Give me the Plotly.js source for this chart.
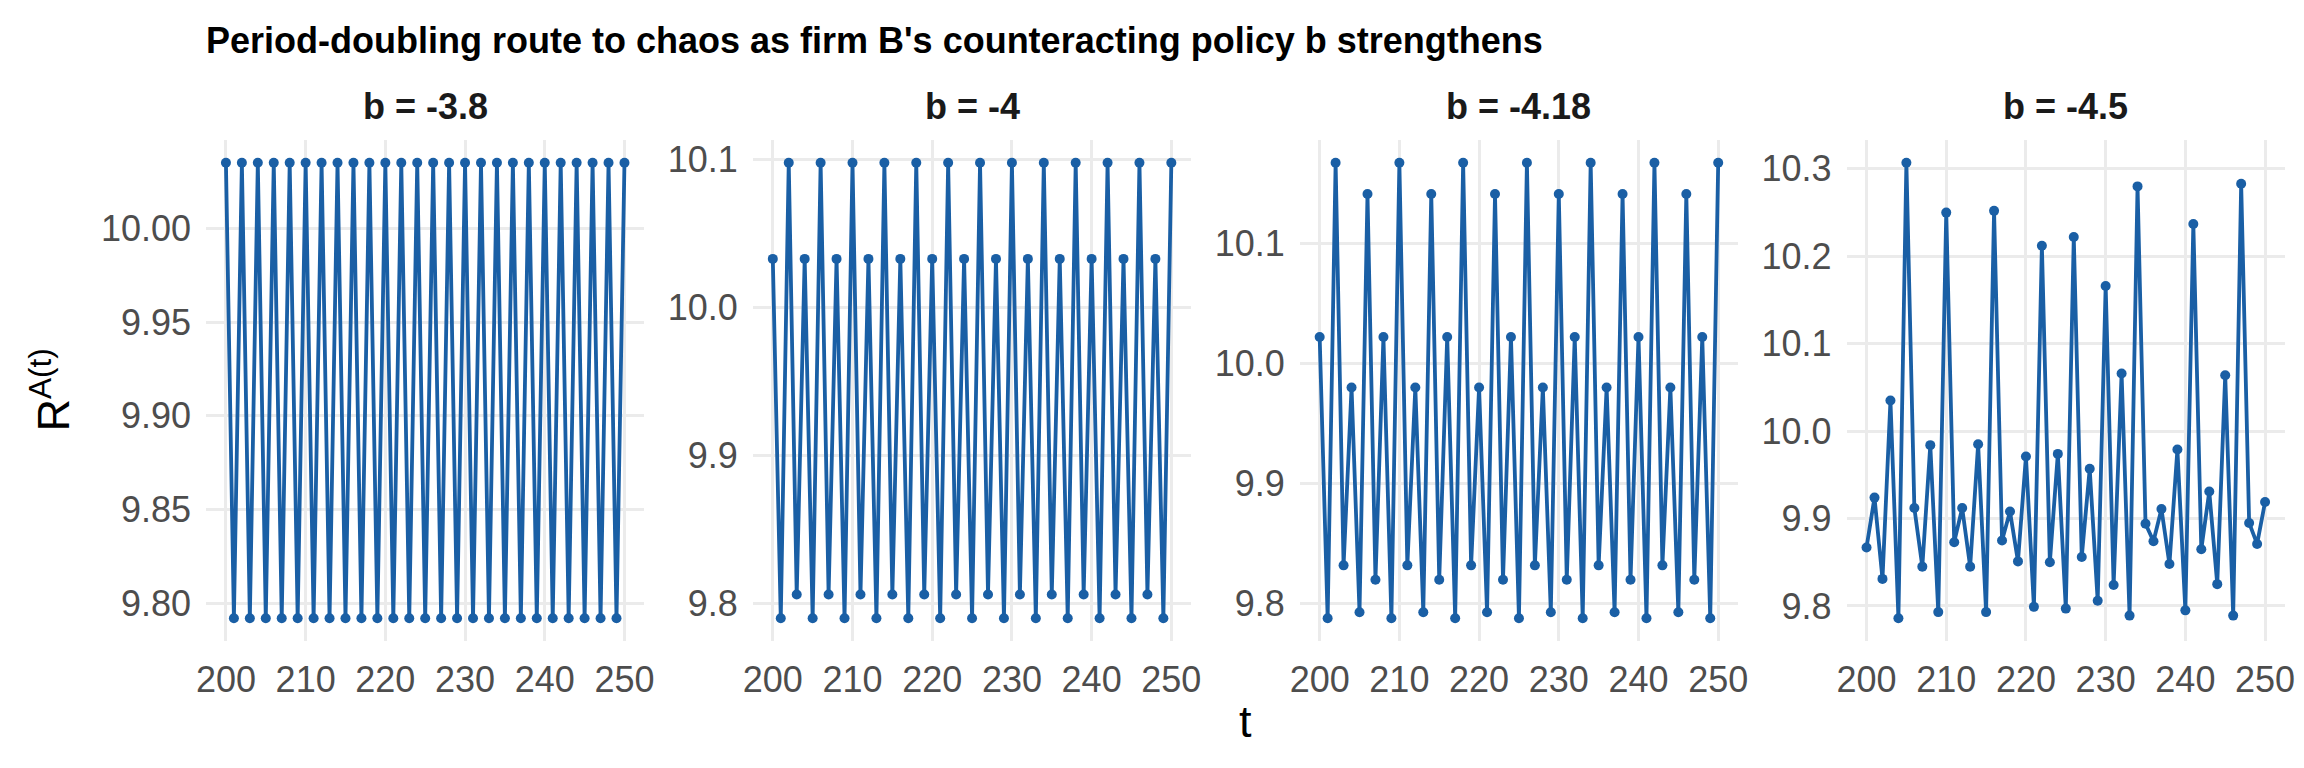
<!DOCTYPE html>
<html>
<head>
<meta charset="utf-8">
<script src="https://cdn.plot.ly/plotly-3.0.1.min.js"></script>
<style>
  html, body { margin: 0; padding: 0; background: #fff; }
  #chart { width: 2304px; height: 768px; }
</style>
</head>
<body>
<div id="chart"></div>
<script>
// time steps shown in every panel
var t_points = [200, 201, 202, 203, 204, 205, 206, 207, 208, 209,
                210, 211, 212, 213, 214, 215, 216, 217, 218, 219,
                220, 221, 222, 223, 224, 225, 226, 227, 228, 229,
                230, 231, 232, 233, 234, 235, 236, 237, 238, 239,
                240, 241, 242, 243, 244, 245, 246, 247, 248, 249, 250];

var panel_names = ["b = -3.8", "b = -4", "b = -4.18", "b = -4.5"];

// R^A(t)
var r_b38 = [10.035, 9.792, 10.035, 9.792, 10.035, 9.792, 10.035, 9.792, 10.035, 9.792,
             10.035, 9.792, 10.035, 9.792, 10.035, 9.792, 10.035, 9.792, 10.035, 9.792,
             10.035, 9.792, 10.035, 9.792, 10.035, 9.792, 10.035, 9.792, 10.035, 9.792,
             10.035, 9.792, 10.035, 9.792, 10.035, 9.792, 10.035, 9.792, 10.035, 9.792,
             10.035, 9.792, 10.035, 9.792, 10.035, 9.792, 10.035, 9.792, 10.035, 9.792, 10.035];

var r_b40 = [10.033, 9.790, 10.098, 9.806, 10.033, 9.790, 10.098, 9.806, 10.033, 9.790,
             10.098, 9.806, 10.033, 9.790, 10.098, 9.806, 10.033, 9.790, 10.098, 9.806,
             10.033, 9.790, 10.098, 9.806, 10.033, 9.790, 10.098, 9.806, 10.033, 9.790,
             10.098, 9.806, 10.033, 9.790, 10.098, 9.806, 10.033, 9.790, 10.098, 9.806,
             10.033, 9.790, 10.098, 9.806, 10.033, 9.790, 10.098, 9.806, 10.033, 9.790, 10.098];

var r_b418 = [10.022, 9.788, 10.167, 9.832, 9.980, 9.793, 10.141, 9.820, 10.022, 9.788,
              10.167, 9.832, 9.980, 9.793, 10.141, 9.820, 10.022, 9.788, 10.167, 9.832,
              9.980, 9.793, 10.141, 9.820, 10.022, 9.788, 10.167, 9.832, 9.980, 9.793,
              10.141, 9.820, 10.022, 9.788, 10.167, 9.832, 9.980, 9.793, 10.141, 9.820,
              10.022, 9.788, 10.167, 9.832, 9.980, 9.793, 10.141, 9.820, 10.022, 9.788, 10.167];

var r_b45 = [9.867, 9.924, 9.831, 10.035, 9.786, 10.307, 9.912, 9.845, 9.984, 9.793,
             10.250, 9.873, 9.912, 9.845, 9.985, 9.793, 10.252, 9.875, 9.908, 9.851,
             9.971, 9.799, 10.212, 9.850, 9.974, 9.797, 10.222, 9.856, 9.957, 9.806,
             10.166, 9.824, 10.066, 9.789, 10.280, 9.894, 9.874, 9.911, 9.848, 9.979,
             9.795, 10.237, 9.865, 9.931, 9.825, 10.064, 9.789, 10.283, 9.895, 9.871, 9.919];

var y_dticks = [0.05, 0.1, 0.1, 0.1];
var y_formats = [".2f", ".1f", ".1f", ".1f"];

function padded_range(values, frac) {
    let lo = Math.min(...values);
    let hi = Math.max(...values);
    let pad = (hi - lo) * frac;
    return [lo - pad, hi + pad];
}

function plot_facets(element_id) {
    let series = [r_b38, r_b40, r_b418, r_b45];
    let line_color = "#1a5fa5";
    let grid_color = "#ebebeb";
    let font_family = "Liberation Sans, Arial, sans-serif";

    // panel geometry in pixels, like the facet grid of the original
    let W = 2304, H = 768;
    let margin = {l: 206, r: 18.5, t: 139.5, b: 127};
    let plot_w = W - margin.l - margin.r;
    let panel_w = 438.5, panel_step = 547;

    let data = [];
    let layout = {
        width: W,
        height: H,
        margin: margin,
        paper_bgcolor: "#ffffff",
        plot_bgcolor: "#ffffff",
        showlegend: false,
        font: {family: font_family, color: "#4d4d4d"},
        title: {
            text: "<b>Period-doubling route to chaos as firm B's counteracting policy b strengthens</b>",
            font: {family: font_family, size: 36, color: "#000000"},
            xref: "paper", x: 0, xanchor: "left",
            yref: "container", y: 1 - 53 / H, yanchor: "bottom",
            pad: {t: 0, b: 0, l: 0, r: 0}
        },
        annotations: []
    };

    for (let i = 0; i < series.length; i++) {
        let suffix = i === 0 ? "" : String(i + 1);
        let x0 = (i * panel_step) / plot_w;
        let x1 = (i * panel_step + panel_w) / plot_w;
        data.push({
            x: t_points,
            y: series[i],
            xaxis: "x" + suffix,
            yaxis: "y" + suffix,
            type: "scatter",
            mode: "lines+markers",
            line: {color: line_color, width: 3.8},
            marker: {color: line_color, size: 10},
            hoverinfo: "x+y"
        });
        layout["xaxis" + suffix] = {
            domain: [x0, Math.min(x1, 1)],
            anchor: "y" + suffix,
            range: [197.5, 252.5],
            tick0: 200,
            dtick: 10,
            ticks: "",
            ticklabelstandoff: 14,
            showline: false,
            zeroline: false,
            gridcolor: grid_color,
            gridwidth: 3,
            tickfont: {size: 36, color: "#4d4d4d", family: font_family}
        };
        layout["yaxis" + suffix] = {
            anchor: "x" + suffix,
            range: padded_range(series[i], 0.05),
            tick0: 9.8,
            dtick: y_dticks[i],
            tickformat: y_formats[i],
            ticks: "",
            ticklabelstandoff: 14,
            showline: false,
            zeroline: false,
            gridcolor: grid_color,
            gridwidth: 3,
            tickfont: {size: 36, color: "#4d4d4d", family: font_family}
        };
        // strip title above each panel
        layout.annotations.push({
            xref: "paper", yref: "paper",
            x: (x0 + Math.min(x1, 1)) / 2, y: 1,
            xanchor: "center", yanchor: "bottom",
            yshift: 11,
            showarrow: false,
            text: "<b>" + panel_names[i] + "</b>",
            font: {family: font_family, size: 36, color: "#1a1a1a"}
        });
    }

    // shared axis titles
    let plot_h = H - margin.t - margin.b;
    layout.annotations.push({
        xref: "paper", yref: "paper",
        x: 0.5, y: (H - margin.b - 722) / plot_h,
        xanchor: "center", yanchor: "middle",
        showarrow: false,
        text: "t",
        font: {family: font_family, size: 45, color: "#000000"}
    });
    layout.annotations.push({
        xref: "paper", yref: "paper",
        x: (50 - margin.l) / plot_w, y: 0.5,
        xanchor: "center", yanchor: "middle",
        textangle: -90,
        showarrow: false,
        text: "R<sup>A(t)</sup>",
        font: {family: font_family, size: 45, color: "#000000"}
    });

    let config = {responsive: false, displayModeBar: false};
    Plotly.newPlot(element_id, data, layout, config);
}

plot_facets("chart");
</script>
</body>
</html>
